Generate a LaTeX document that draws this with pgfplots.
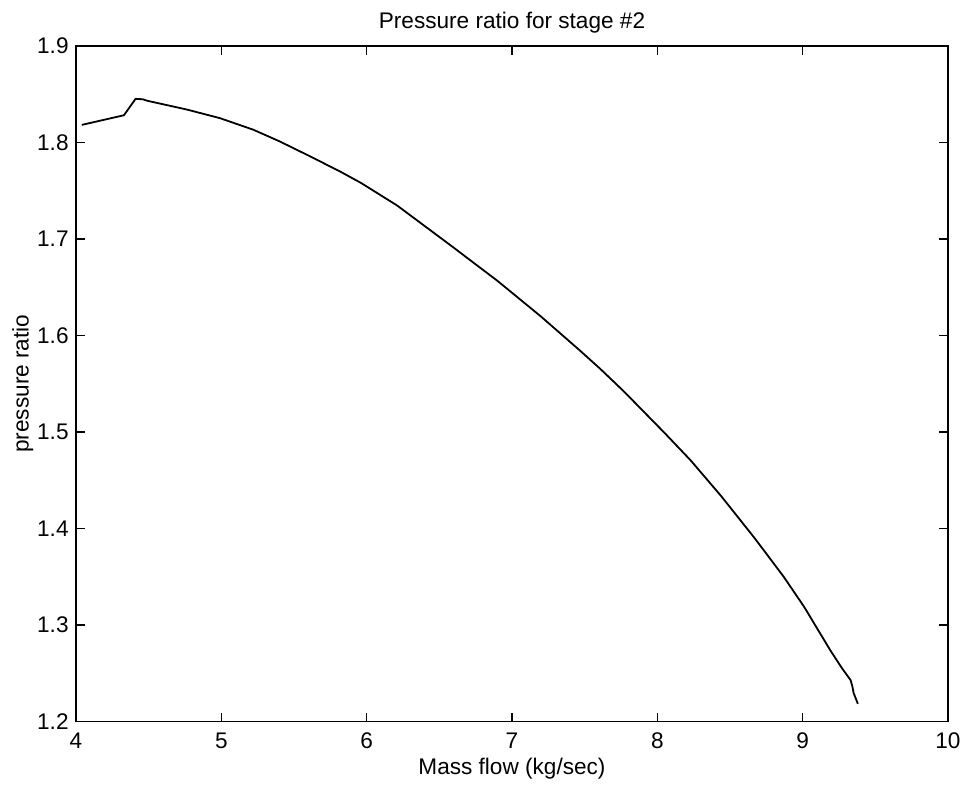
\documentclass[border=0pt]{standalone}
\usepackage{fontspec}
\setmainfont{Liberation Sans}
\usepackage{pgfplots}
\pgfplotsset{compat=1.18}
\begin{document}
\fontsize{11.3}{13.6}\selectfont
\begin{tikzpicture}
\useasboundingbox (-38pt,-33pt) rectangle (445pt,360.85pt);
\begin{axis}[
  scale only axis,
  width=436pt, height=338pt,
  xmin=4, xmax=10, ymin=1.2, ymax=1.9,
  xtick={4,5,6,7,8,9,10},
  ytick={1.2,1.3,1.4,1.5,1.6,1.7,1.8,1.9},
  yticklabel style={/pgf/number format/fixed, /pgf/number format/fixed zerofill, /pgf/number format/precision=1},
  /pgf/number format/assume math mode=true,
  tick align=inside,
  major tick length=4.5pt,
  axis line style={line width=0.8pt},
  every tick/.style={black, line width=0.7pt},
  xticklabel style={anchor=base, yshift=-13.6pt},
  yticklabel style={anchor=east, inner sep=0pt, xshift=-3.5pt},
  title={Pressure ratio for stage \#2},
  title style={at={(axis description cs:0.5,1.008)}, anchor=base, inner sep=0pt},
  xlabel={Mass flow (kg/sec)},
  x label style={at={(axis description cs:0.5,-0.0784)}, anchor=base, inner sep=0pt},
  ylabel={pressure ratio},
  y label style={at={(axis description cs:-0.0544,0.5)}, anchor=base, inner sep=0pt},
]
\addplot[black, line width=0.9pt, line join=round] coordinates {
(4.04,1.818)
(4.33,1.828)
(4.41,1.845)
(4.46,1.8445)
(4.49,1.843)
(4.76,1.834)
(4.99,1.825)
(5.22,1.813)
(5.40,1.801)
(5.61,1.7855)
(5.82,1.7695)
(5.96,1.758)
(6.21,1.7345)
(6.58,1.693)
(6.90,1.6565)
(7.20,1.6195)
(7.47,1.584)
(7.61,1.565)
(7.77,1.542)
(8.05,1.499)
(8.23,1.4705)
(8.44,1.4335)
(8.67,1.390)
(8.87,1.350)
(9.01,1.319)
(9.19,1.274)
(9.27,1.2555)
(9.33,1.243)
(9.343,1.236)
(9.35,1.230)
(9.38,1.2185)
};
\end{axis}
\end{tikzpicture}
\end{document}
